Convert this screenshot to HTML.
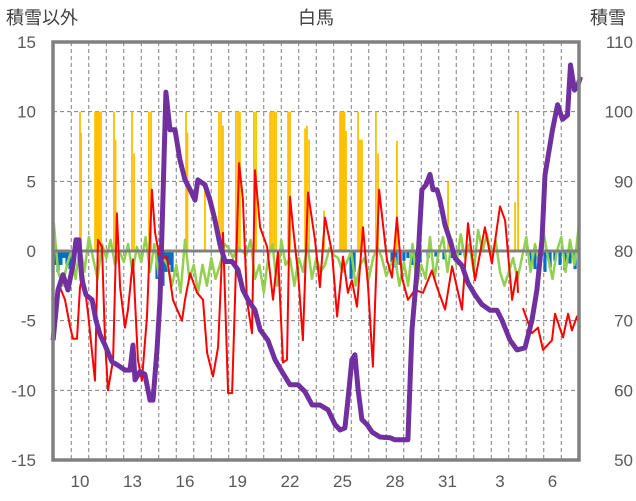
<!DOCTYPE html>
<html><head><meta charset="utf-8"><style>
html,body{margin:0;padding:0;background:#fff;}
svg{display:block;font-family:"Liberation Sans","Noto Sans CJK JP",sans-serif;}
</style></head><body>
<svg id="chart" width="636" height="501" viewBox="0 0 636 501" xmlns="http://www.w3.org/2000/svg">
<rect x="0" y="0" width="636" height="501" fill="#fff"/>
<text x="316" y="24" font-size="18" fill="#404040" text-anchor="middle">白馬</text>
<text x="6" y="24" font-size="18" fill="#404040">積雪以外</text>
<text x="590" y="24" font-size="18" fill="#404040">積雪</text>
<g id="grid"></g>
<g id="bars"></g>
<g id="lines"></g>
<g id="axes"></g>
</svg>
<script>
const xTickDays=[10,13,16,19,22,25,28,31,34,37];
const xTickLabels=["10","13","16","19","22","25","28","31","3","6"];
const leftTicks=[15,10,5,0,-5,-10,-15];
const rightTicks=[110,100,90,80,70,60,50];
const snowDays=[8.46,8.74,9.03,9.31,9.6,9.77,9.94,10.11,10.34,10.69,10.91,11.14,11.43,11.83,12.17,12.57,12.86,13.03,13.14,13.43,13.71,14.0,14.17,14.4,14.57,14.74,14.91,15.14,15.43,15.71,16.0,16.29,16.57,16.74,17.14,17.43,17.71,18.0,18.29,18.69,19.03,19.31,19.6,20.0,20.29,20.74,21.14,21.54,22.0,22.46,22.86,23.26,23.71,24.17,24.57,24.86,25.14,25.31,25.54,25.71,25.89,26.11,26.4,26.69,27.14,27.71,28.0,28.57,28.74,28.97,29.31,29.54,29.77,30.0,30.17,30.4,30.57,30.86,31.14,31.43,31.83,32.17,32.57,32.97,33.43,33.83,34.11,34.57,34.97,35.43,35.83,36.11,36.4,36.57,37.0,37.29,37.57,37.86,38.03,38.26,38.43,38.6];
const snowDepth=[67.2,74.4,76.6,74.4,78,81.6,81.6,75.9,73.7,73,70.1,68,66.5,64.1,63.6,62.9,62.9,66.5,61.5,62.7,62.3,58.6,58.6,65.8,73,87.3,102.8,97.4,97.4,93.1,90.2,88.8,87.3,90.2,89.5,87.3,84.5,80.9,78.5,78.5,77.3,74.4,73,71.5,68.7,67.2,64.4,62.7,60.8,60.8,59.8,57.9,57.9,57.2,55.1,54.3,54.6,58.6,64.4,65.1,60.1,55.8,55.1,54,53.3,53.2,52.9,52.9,52.9,68.7,78.7,88.8,89.5,91,88.8,88.8,87.3,83.7,81.6,79,77.9,75.4,73.7,72.3,71.5,71.5,70.1,67.2,65.8,66.1,70.1,74.4,81.6,90.9,97.4,101,98.9,99.5,106.7,103.1,103.6,105];
const tempDays=[8.57,8.86,9.14,9.43,9.6,9.83,10.0,10.17,10.46,10.69,10.86,11.03,11.26,11.43,11.6,11.89,12.11,12.29,12.57,12.74,13.03,13.31,13.54,13.83,14.11,14.29,14.57,14.97,15.31,15.83,16.0,16.29,16.69,17.03,17.26,17.6,17.89,18.17,18.46,18.69,18.86,19.09,19.31,19.54,19.83,20.0,20.29,20.69,21.03,21.31,21.6,21.83,22.0,22.17,22.46,22.74,23.03,23.43,23.71,24.0,24.4,24.69,25.03,25.31,25.54,25.83,26.17,26.46,26.74,27.09,27.54,27.83,28.11,28.4,28.74,29.14,29.6,30.11,30.4,30.86,31.26,31.83,32.17,32.57,33.14,33.54,34.0,34.29,34.69,34.97,35.03,35.17,35.31,35.83,36.17,36.46,36.97,37.14,37.6,37.89,38.11,38.4,38.57];
const tempVals=[-3.5,-2.6,-3.5,-5.4,-6.3,-6.3,-2.6,-1.6,-4.5,-7.3,-9.3,0.8,0.3,-6.4,-10,-7.8,2.7,-2.6,-5.5,-4.2,-0.6,-7.8,-9.3,-4.7,4.4,1.3,-0.6,-0.4,-3.5,-5.0,-3.5,-1.6,-3.0,-3.5,-7.3,-9.0,-6.9,1.3,-10.2,-10.2,-3.5,6.3,3.7,-3.5,-5.9,5.8,1.7,0.3,-3.5,-0.1,-8.0,-7.8,3.9,1.7,-1.6,-6.4,4.2,0.8,-2.6,2.4,-0.1,-4.7,-0.4,-3.0,-2.1,-4.0,1.7,-2.6,-8.3,4.4,-0.6,-1.9,2.4,-1.9,-3.5,-2.8,-3.0,-1.4,-2.6,-4.2,-1.1,-4.2,2.0,-2.1,1.7,-0.9,3.2,2.2,-3.5,-1.5,-3.0,null,-4.1,-5.9,-5.5,-7.1,-6.4,-4.5,-6.2,-4.5,-5.7,-4.7,-5.5];
const windStart=8.5, windStep=0.25;
const windVals=[2,-1.5,-2.5,-1,0,-2,0.5,-1.5,1,-0.5,-2,0.5,-0.5,0.8,-1,0,-0.8,0.5,-1.5,0.3,-0.8,1,-1.5,0.5,-1.8,-0.5,-1,-2.5,-1,-3,0.8,-2,-1,-3,-1,-2.5,-0.5,-2,-1,0.5,0.2,-0.5,0.3,0,-0.3,0.8,-2,-1,-3,-0.5,0.5,-2.5,0.8,-1,-0.5,-2.5,-0.5,-1.5,0.5,-2,-0.5,-1.5,-1,0.2,-0.3,-0.5,-1.5,-0.8,0,-2.5,-1,-0.5,-2,-0.5,0.3,-0.5,-1.8,-1,-0.5,-2.5,-0.8,-2.5,0.5,-2.5,-1,-2,1,-2,0,1,-1.5,0.8,-1,1.2,-0.5,0.5,-1.5,1.5,0,1.2,-0.5,0.8,-1.5,-2.5,-1.5,-0.5,-2,-0.5,1,-1.5,0.5,-1,1.2,-0.5,-2,0,1,-1.5,0.8,-1,1.8];
const snowfallDays=[10.0,10.06,10.86,10.94,11.03,11.11,11.2,11.94,12.03,12.97,13.09,13.94,14.06,16.06,16.14,17.14,17.94,18.06,18.17,18.91,19.03,19.14,19.94,20.06,20.86,20.97,21.09,21.2,21.89,22.0,22.86,22.97,23.09,23.94,24.86,24.94,25.03,25.11,25.2,25.89,26.0,26.11,26.91,27.03,28.11,31.03,31.83,34.86,35.03];
const snowfallVals=[10,8.5,10,10,10,10,10,10,8,10,7,10,10,10,8.5,5,10,10,9,10,10,10,10,10,10,10,10,10,10,10,8.8,9,8,2.9,10,10,10,10,8.6,10,8,8,10,7,7.9,5,1,3.5,10];
const meltDays=[8.57,8.74,8.91,9.09,9.26,9.43,9.6,14.4,14.57,14.74,14.91,15.09,15.26,25.49,25.66,27.83,28.06,28.29,28.51,28.74,28.97,29.2,29.43,29.89,30.34,30.8,31.26,31.71,35.71,36.0,36.29,36.57,36.86,37.14,37.43,37.71,38.0,38.29];
const meltVals=[-1,-1.5,-1,-0.5,-1,-1.3,-0.5,-2,-3,-2.5,-1.5,-1,-1.5,-2,-1.5,-0.8,-1.2,-1,-0.7,-0.5,-1,-0.6,-0.8,-0.5,-0.4,-0.6,-0.5,-0.3,-1,-1.3,-0.8,-1.5,-1.2,-0.7,-1,-1.4,-0.9,-1.3];

const NS='http://www.w3.org/2000/svg';
const L=53,R=579,T=42,B=460;
function xS(d){return 80+(d-10)*17.5;}
function yL(v){return 251-v*(418/30);}
function yR(v){return T+(110-v)*(418/60);}
function mk(tag,attrs,parent){const e=document.createElementNS(NS,tag);for(const k in attrs)e.setAttribute(k,attrs[k]);parent.appendChild(e);return e;}
const grid=document.getElementById('grid'),bars=document.getElementById('bars'),lines=document.getElementById('lines'),axes=document.getElementById('axes');

for(let k=8;k<=38;k++){const x=xS(k+0.5);if(x<=L+1||x>=R-1)continue;
 const g=mk('line',{x1:x,y1:T,x2:x,y2:B,stroke:'#7f7f7f','stroke-width':1,'stroke-dasharray':'4,3'},grid);
 }
leftTicks.forEach(v=>{const y=yL(v);
 if(v!==15&&v!==-15&&v!==0){const g=mk('line',{x1:L,y1:y,x2:R,y2:y,stroke:'#7f7f7f','stroke-width':1,'stroke-dasharray':'4,3'},grid);
 }
 const t=mk('text',{x:36,y:y+6,'font-size':17,fill:'#595959','text-anchor':'end'},axes);t.textContent=String(v);
 });
rightTicks.forEach(v=>{const y=yR(v);
 const t=mk('text',{x:633,y:y+6,'font-size':17,fill:'#595959','text-anchor':'end'},axes);t.textContent=String(v);
 });
xTickDays.forEach((d,i)=>{const t=mk('text',{x:xS(d),y:487,'font-size':17,fill:'#595959','text-anchor':'middle'},axes);t.textContent=xTickLabels[i];
 });

snowfallDays.forEach((d,i)=>{const x=xS(d),y=yL(snowfallVals[i]);
 const b=mk('rect',{x:x-0.9,y:y,width:1.8,height:yL(0)-y,fill:'#FFC000'},bars);
 });
meltDays.forEach((d,i)=>{const x=xS(d),y=yL(meltVals[i]);
 const b=mk('rect',{x:x-1.6,y:yL(0),width:3.2,height:y-yL(0),fill:'#0070C0'},bars);
 });

let wp='';windVals.forEach((v,i)=>{wp+=(i?'L':'M')+xS(windStart+i*windStep).toFixed(1)+','+yL(v).toFixed(1);});
const wl=mk('path',{d:wp,fill:'none',stroke:'#92D050','stroke-width':2.5,'stroke-linejoin':'round'},lines);


const zl=mk('line',{x1:L,y1:yL(0),x2:R,y2:yL(0),stroke:'#808080','stroke-width':3},lines);


let tp='',pen=false;tempVals.forEach((v,i)=>{if(v===null){pen=false;return;}tp+=(pen?'L':'M')+xS(tempDays[i]).toFixed(1)+','+yL(v).toFixed(1);pen=true;});
const tl=mk('path',{d:tp,fill:'none',stroke:'#FF0000','stroke-width':2,'stroke-linejoin':'round'},lines);


let sp='';snowDepth.forEach((v,i)=>{sp+=(i?'L':'M')+xS(snowDays[i]).toFixed(1)+','+yR(v).toFixed(1);});
const sl=mk('path',{d:sp,fill:'none',stroke:'#7030A0','stroke-width':5,'stroke-linejoin':'round'},lines);


const fr=mk('rect',{x:L,y:T,width:R-L,height:B-T,fill:'none',stroke:'#808080','stroke-width':3.5},axes);

</script>
</body></html>
